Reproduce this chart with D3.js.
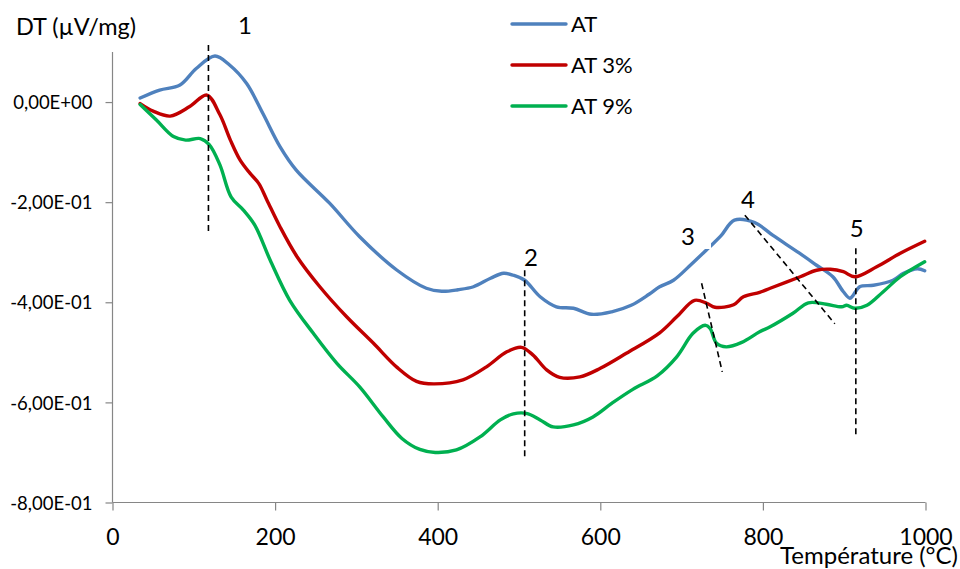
<!DOCTYPE html>
<html>
<head>
<meta charset="utf-8">
<script src="https://cdn.jsdelivr.net/npm/d3@7"></script>
<style>
  html, body { margin: 0; padding: 0; background: #fff; }
  svg { display: block; }
  text { font-family: Lato, "Open Sans", sans-serif; fill: #000; }
</style>
</head>
<body>
<svg id="chart" width="960" height="569"></svg>
<script>
// ---- Data ----
const seriesNames = ["AT", "AT 3%", "AT 9%"];
const seriesColors = ["#4F81BD", "#C00000", "#00B050"];

const temperatureAT = [34,58,83,103,126,144,165,185,206,226,267,304,350,386,405,425,444,465,481,493,507,526,546,567,589,614,638,660,673,690,712,734,748,765,790,812,845,866,886,899,907,911,919,936,960,973,990,999];
const valuesAT = [0.008,0.024,0.034,0.067,0.092,0.074,0.037,-0.023,-0.089,-0.136,-0.202,-0.269,-0.336,-0.372,-0.378,-0.375,-0.369,-0.352,-0.342,-0.346,-0.356,-0.389,-0.409,-0.412,-0.424,-0.419,-0.406,-0.384,-0.369,-0.356,-0.324,-0.290,-0.268,-0.236,-0.241,-0.266,-0.302,-0.326,-0.349,-0.379,-0.392,-0.386,-0.369,-0.366,-0.356,-0.342,-0.333,-0.337];

const temperatureAT3 = [34,50,71,95,116,132,145,157,169,180,190,206,227,255,288,321,350,374,395,431,460,485,503,517,534,550,575,600,632,673,694,716,731,741,764,776,796,809,846,866,883,899,913,940,969,999];
const valuesAT3 = [-0.003,-0.018,-0.028,-0.009,0.014,-0.025,-0.076,-0.116,-0.142,-0.163,-0.196,-0.249,-0.309,-0.369,-0.429,-0.482,-0.530,-0.558,-0.563,-0.555,-0.529,-0.499,-0.490,-0.505,-0.535,-0.550,-0.549,-0.532,-0.502,-0.461,-0.429,-0.396,-0.402,-0.410,-0.405,-0.389,-0.380,-0.372,-0.349,-0.336,-0.334,-0.339,-0.349,-0.329,-0.302,-0.278];

const temperatureAT9 = [34,54,75,90,108,119,132,146,161,175,194,218,247,276,304,333,356,378,397,423,452,477,493,509,526,542,567,591,614,640,670,694,714,729,735,743,755,774,796,809,837,856,878,897,903,913,928,948,969,999];
const valuesAT9 = [-0.005,-0.036,-0.069,-0.076,-0.073,-0.085,-0.125,-0.190,-0.216,-0.246,-0.316,-0.396,-0.462,-0.522,-0.569,-0.629,-0.672,-0.694,-0.700,-0.695,-0.669,-0.635,-0.623,-0.622,-0.635,-0.649,-0.645,-0.629,-0.602,-0.574,-0.547,-0.509,-0.462,-0.446,-0.452,-0.482,-0.489,-0.480,-0.459,-0.449,-0.422,-0.401,-0.404,-0.409,-0.406,-0.412,-0.406,-0.379,-0.349,-0.319];

const xTicks = [0, 200, 400, 600, 800, 1000];
const yTicks = [0, -0.2, -0.4, -0.6, -0.8];
const yTickLabels = ["0,00E+00", "-2,00E-01", "-4,00E-01", "-6,00E-01", "-8,00E-01"];

// annotation dashed lines in data units: [T1, v1, T2, v2]
const markerLabels = ["1", "2", "3", "4", "5"];
const markerLines = [
  [118, 0.114, 118, -0.262],
  [507, -0.336, 507, -0.715],
  [724.6, -0.362, 750, -0.539],
  [777.8, -0.226, 888.5, -0.443],
  [914.3, -0.292, 914.3, -0.671]
];
const markerLabelPos = [[162.9, 0.136], [514.6, -0.328], [707.7, -0.286], [781.5, -0.212], [915.5, -0.270]];

// ---- Layout ----
const svg = d3.select("#chart");
const x = d3.scaleLinear().domain([0, 1000]).range([112.5, 925.5]);
const y = d3.scaleLinear().domain([-0.8, 0.1]).range([502.5, 52]);
const axisColor = "#868686";

// Y axis
const yAxis = svg.append("g").attr("transform", `translate(${x(0)},0)`)
  .call(d3.axisLeft(y).tickValues(yTicks).tickSize(7).tickFormat((d, i) => yTickLabels[i]));
yAxis.select(".domain").attr("stroke", axisColor).attr("stroke-width", 1.2).attr("d", `M0,${y(0.1)}V${y(-0.8)}`);
yAxis.selectAll(".tick line").attr("stroke", axisColor).attr("stroke-width", 1.2);
yAxis.selectAll(".tick text").attr("font-size", 18.5).attr("font-family", "Lato").attr("fill", "#000")
  .attr("x", -20).attr("dy", "0.36em");

// X axis
const xAxis = svg.append("g").attr("transform", `translate(0,${y(-0.8)})`)
  .call(d3.axisBottom(x).tickValues(xTicks).tickSize(8).tickFormat(d3.format("d")));
xAxis.select(".domain").attr("stroke", axisColor).attr("stroke-width", 1.2).attr("d", `M${x(0)},0H${x(1000)}`);
xAxis.selectAll(".tick line").attr("stroke", axisColor).attr("stroke-width", 1.2);
xAxis.selectAll(".tick text").attr("font-size", 23).attr("font-family", "Lato").attr("fill", "#000")
  .attr("y", 42).attr("dy", 0);

// Axis titles
svg.append("text").attr("x", 16).attr("y", 35).attr("font-size", 23.5).text("DT (µV/mg)");
svg.append("text").attr("x", 958).attr("y", 564).attr("text-anchor", "end").attr("font-size", 24).text("Température (°C)");

// Series
const series = [
  temperatureAT.map((t, i) => [t, valuesAT[i]]),
  temperatureAT3.map((t, i) => [t, valuesAT3[i]]),
  temperatureAT9.map((t, i) => [t, valuesAT9[i]])
];
const line = d3.line().x(d => x(d[0])).y(d => y(d[1])).curve(d3.curveCatmullRom.alpha(0.5));
series.forEach((s, i) => {
  svg.append("path").datum(s).attr("fill", "none").attr("stroke", seriesColors[i])
    .attr("stroke-width", 3.4).attr("stroke-linejoin", "round").attr("stroke-linecap", "round")
    .attr("d", line);
});

// Annotations
markerLines.forEach(m => {
  svg.append("line").attr("x1", x(m[0])).attr("y1", y(m[1])).attr("x2", x(m[2])).attr("y2", y(m[3]))
    .attr("stroke", "#000").attr("stroke-width", 1.6).attr("stroke-dasharray", "6,4");
});
// white label box behind "3" (cuts the blue line as in reference)
svg.append("rect").attr("x", 678).attr("y", 224).attr("width", 33).attr("height", 25).attr("fill", "#fff");
markerLabels.forEach((lab, i) => {
  svg.append("text").attr("x", x(markerLabelPos[i][0])).attr("y", y(markerLabelPos[i][1]))
    .attr("text-anchor", "middle").attr("font-size", 24).text(lab);
});

// Legend
const legendY = [24, 65, 106];
seriesNames.forEach((n, i) => {
  svg.append("line").attr("x1", 512).attr("x2", 566).attr("y1", legendY[i]).attr("y2", legendY[i])
    .attr("stroke", seriesColors[i]).attr("stroke-width", 3.4).attr("stroke-linecap", "round");
  svg.append("text").attr("x", 571).attr("y", legendY[i] + 8).attr("font-size", 22).text(n);
});
</script>
</body>
</html>
